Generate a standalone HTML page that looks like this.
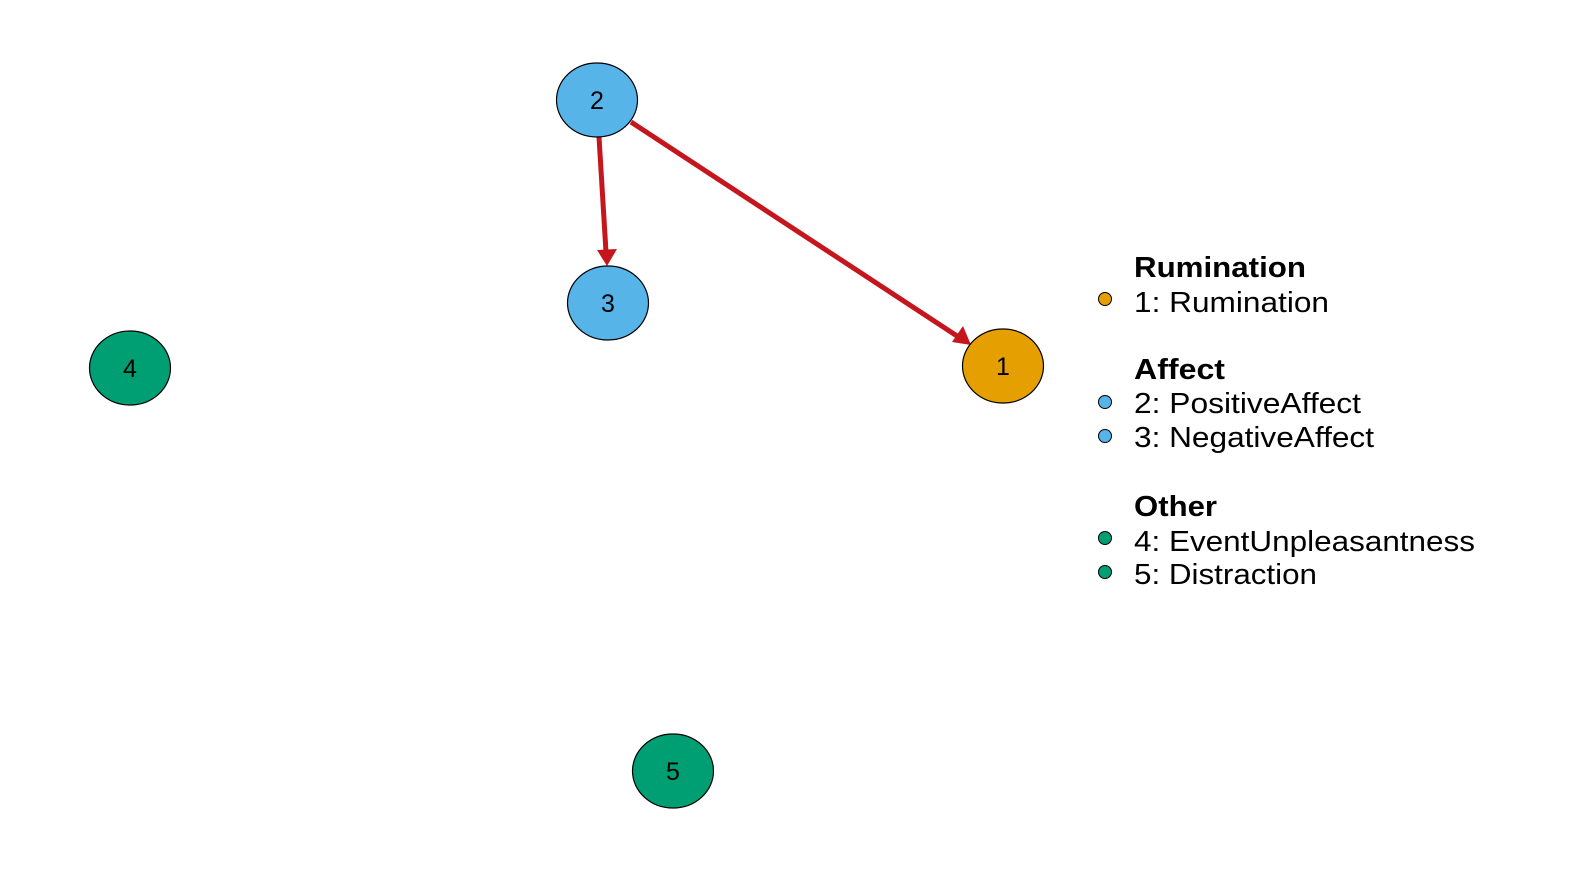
<!DOCTYPE html>
<html><head><meta charset="utf-8"><style>
html,body{margin:0;padding:0;background:#fff;width:1588px;height:872px;overflow:hidden}
svg{display:block}
text{font-family:"Liberation Sans",Arial,sans-serif}
</style></head><body>
<svg width="1588" height="872" viewBox="0 0 1588 872" xmlns="http://www.w3.org/2000/svg">
<g stroke="#C4161C" stroke-width="5" fill="none">
<line x1="599" y1="137" x2="606" y2="252"/>
<line x1="631" y1="122" x2="957" y2="336"/>
</g>
<g fill="#C4161C">
<polygon points="607,266 597,250 617,249"/>
<polygon points="971,345 952,342 963,326"/>
</g>
<g stroke="#000" stroke-width="1.2">
<ellipse cx="597" cy="100" rx="40.5" ry="37" fill="#56B4E9"/>
<ellipse cx="608" cy="303" rx="40.5" ry="37" fill="#56B4E9"/>
<ellipse cx="1003" cy="366" rx="40.5" ry="37" fill="#E69F00"/>
<ellipse cx="130" cy="368" rx="40.5" ry="37" fill="#009E73"/>
<ellipse cx="673" cy="771" rx="40.5" ry="37" fill="#009E73"/>
</g>
<g font-size="25" text-anchor="middle" fill="#000">
<text x="597" y="109">2</text>
<text x="608" y="312">3</text>
<text x="1003" y="375">1</text>
<text x="130" y="377">4</text>
<text x="673" y="780">5</text>
</g>
<g stroke="#000" stroke-width="1">
<circle cx="1105" cy="299" r="6.5" fill="#E69F00"/>
<circle cx="1105" cy="402" r="6.5" fill="#56B4E9"/>
<circle cx="1105" cy="436" r="6.5" fill="#56B4E9"/>
<circle cx="1105" cy="538" r="6.5" fill="#009E73"/>
<circle cx="1105" cy="572" r="6.5" fill="#009E73"/>
</g>
<g font-size="29" fill="#000">
<text x="1134" y="277" font-weight="bold" textLength="172" lengthAdjust="spacingAndGlyphs">Rumination</text>
<text x="1134" y="312" textLength="195" lengthAdjust="spacingAndGlyphs">1: Rumination</text>
<text x="1134" y="379" font-weight="bold" textLength="91" lengthAdjust="spacingAndGlyphs">Affect</text>
<text x="1134" y="413" textLength="227" lengthAdjust="spacingAndGlyphs">2: PositiveAffect</text>
<text x="1134" y="447" textLength="240" lengthAdjust="spacingAndGlyphs">3: NegativeAffect</text>
<text x="1134" y="516" font-weight="bold" textLength="83" lengthAdjust="spacingAndGlyphs">Other</text>
<text x="1134" y="551" textLength="341" lengthAdjust="spacingAndGlyphs">4: EventUnpleasantness</text>
<text x="1134" y="584" textLength="183" lengthAdjust="spacingAndGlyphs">5: Distraction</text>
</g>
</svg>
</body></html>
